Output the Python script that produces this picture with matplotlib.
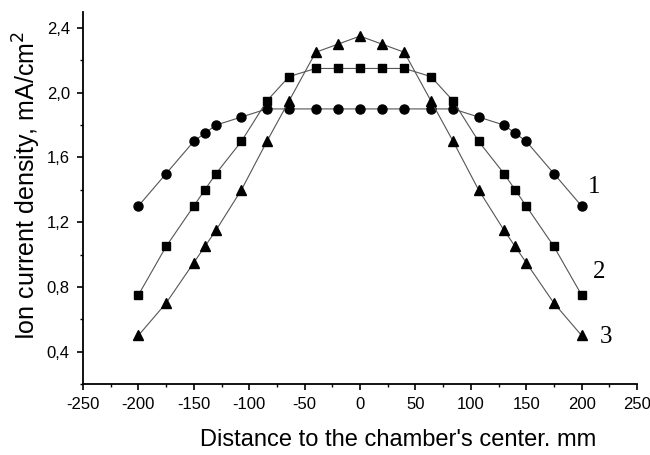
import matplotlib
matplotlib.use("Agg")
import matplotlib.pyplot as plt
from matplotlib.ticker import MultipleLocator, FuncFormatter

# Data
x = [-200, -175, -150, -140, -130, -107, -84, -64, -40, -20, 0,
     20, 40, 64, 84, 107, 130, 140, 150, 175, 200]
curve1 = [1.30, 1.50, 1.70, 1.75, 1.80, 1.85, 1.90, 1.90, 1.90, 1.90, 1.90,
          1.90, 1.90, 1.90, 1.90, 1.85, 1.80, 1.75, 1.70, 1.50, 1.30]
curve2 = [0.75, 1.05, 1.30, 1.40, 1.50, 1.70, 1.95, 2.10, 2.15, 2.15, 2.15,
          2.15, 2.15, 2.10, 1.95, 1.70, 1.50, 1.40, 1.30, 1.05, 0.75]
curve3 = [0.50, 0.70, 0.95, 1.05, 1.15, 1.40, 1.70, 1.95, 2.25, 2.30, 2.35,
          2.30, 2.25, 1.95, 1.70, 1.40, 1.15, 1.05, 0.95, 0.70, 0.50]
curve_labels = ["1", "2", "3"]
label_pos = [(206, 1.42), (210, 0.89), (216, 0.49)]

plt.rcParams["font.family"] = ["Liberation Sans", "DejaVu Sans"]
plt.rcParams["axes.unicode_minus"] = False

fig = plt.figure(figsize=(6.5, 4.55), dpi=100)
ax = fig.add_axes([0.1277, 0.156, 0.8523, 0.818])

for y, m, ms in [(curve1, "o", 6.5), (curve2, "s", 6), (curve3, "^", 7)]:
    ax.plot(x, y, color="#555555", lw=0.8, marker=m, ms=ms,
            mfc="black", mec="black", zorder=3)

for txt, (tx, ty) in zip(curve_labels, label_pos):
    ax.text(tx, ty, txt, family="Liberation Serif", fontsize=18,
            ha="left", va="center")

ax.set_xlim(-250, 250)
ax.set_ylim(0.2, 2.5)
ax.xaxis.set_major_locator(MultipleLocator(50))
ax.xaxis.set_minor_locator(MultipleLocator(25))
ax.yaxis.set_major_locator(MultipleLocator(0.4))
ax.yaxis.set_minor_locator(MultipleLocator(0.2))
ax.yaxis.set_major_formatter(FuncFormatter(lambda v, p: f"{v:.1f}".replace(".", ",")))

for s in ["top", "right"]:
    ax.spines[s].set_visible(False)
for s in ["left", "bottom"]:
    ax.spines[s].set_linewidth(1.3)

ax.tick_params(which="major", direction="out", length=4.5, width=1.2, labelsize=12, pad=5)
ax.tick_params(which="minor", direction="out", length=2.5, width=1.0)

ax.set_xlabel("Distance to the chamber's center. mm", fontsize=17, labelpad=12)
ax.xaxis.label.set_x(0.569)
ax.set_ylabel("Ion current density, mA/cm$^2$", fontsize=18, labelpad=3)
ax.yaxis.label.set_y(0.532)

fig.savefig("out.png", dpi=100)
